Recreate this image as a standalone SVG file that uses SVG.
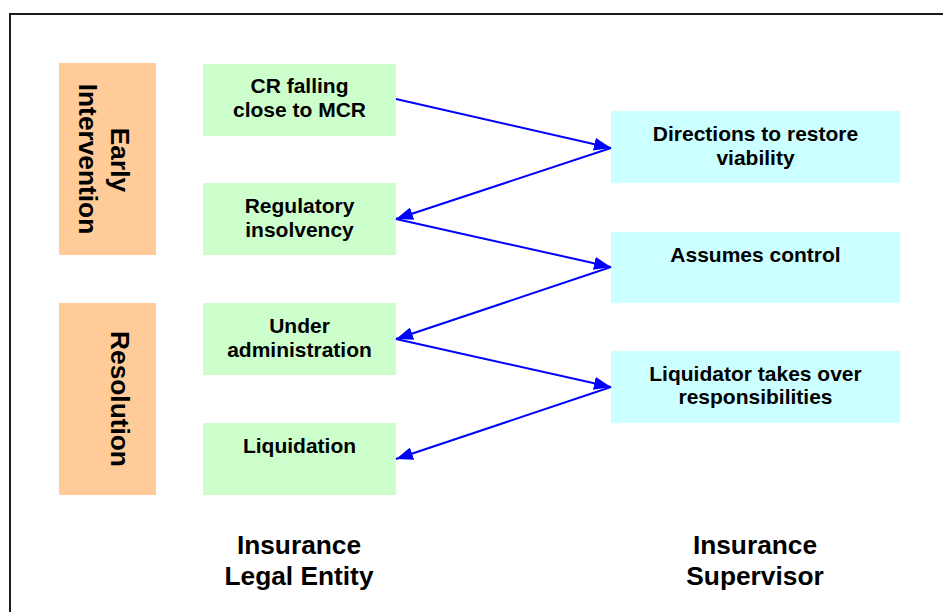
<svg xmlns="http://www.w3.org/2000/svg" width="943" height="612" viewBox="0 0 943 612">
<defs>
<marker id="ah" markerUnits="userSpaceOnUse" markerWidth="18" markerHeight="14" refX="17" refY="6.5" orient="auto">
<path d="M0,0 L17,6.5 L0,13 z" fill="#0000FF"/>
</marker>
<style>
.phase{fill:#FFCC99}
.ent{fill:#CCFFCC}
.sup{fill:#CCFFFF}
.t{font-family:"Liberation Sans",Arial,sans-serif;font-weight:bold;font-size:21px;fill:#000;text-anchor:middle}
.big{font-family:"Liberation Sans",Arial,sans-serif;font-weight:bold;font-size:26.3px;fill:#000;text-anchor:middle}
.c{stroke:#0000FF;stroke-width:2;fill:none;marker-end:url(#ah)}
</style>
</defs>
<rect x="0" y="0" width="943" height="612" fill="#FFFFFF"/>
<rect x="10" y="14" width="960" height="640" fill="none" stroke="#1a1a1a" stroke-width="2"/>
<g id="early">
<rect class="phase" x="59" y="63" width="97" height="192"/>
<text class="big" transform="translate(111,160) rotate(90)">Early</text>
<text class="big" transform="translate(79,159) rotate(90)">Intervention</text>
</g>
<g id="resolution">
<rect class="phase" x="59" y="303" width="97" height="192"/>
<text class="big" transform="translate(111,399) rotate(90)">Resolution</text>
</g>
<g id="cr">
<rect class="ent" x="203" y="64" width="193" height="72"/>
<text class="t" x="299.5" y="93">CR falling</text>
<text class="t" x="299.5" y="116.7">close to MCR</text>
</g>
<g id="reg">
<rect class="ent" x="203" y="183" width="193" height="72"/>
<text class="t" x="299.5" y="212.7">Regulatory</text>
<text class="t" x="299.5" y="236.7">insolvency</text>
</g>
<g id="admin">
<rect class="ent" x="203" y="303" width="193" height="72"/>
<text class="t" x="299.5" y="332.7">Under</text>
<text class="t" x="299.5" y="356.7">administration</text>
</g>
<g id="liq">
<rect class="ent" x="203" y="423" width="193" height="72"/>
<text class="t" x="299.5" y="452.7">Liquidation</text>
</g>
<g id="dir">
<rect class="sup" x="611" y="111" width="289" height="72"/>
<text class="t" x="755.5" y="140.7">Directions to restore</text>
<text class="t" x="755.5" y="164.7">viability</text>
</g>
<g id="ctrl">
<rect class="sup" x="611" y="232" width="289" height="71"/>
<text class="t" x="755.5" y="261.7">Assumes control</text>
</g>
<g id="liqr">
<rect class="sup" x="611" y="351" width="289" height="72"/>
<text class="t" x="755.5" y="380.7">Liquidator takes over</text>
<text class="t" x="755.5" y="404.2">responsibilities</text>
</g>
<g id="lbl-entity">
<text class="big" x="299" y="554">Insurance</text>
<text class="big" x="299" y="585">Legal Entity</text>
</g>
<g id="lbl-supervisor">
<text class="big" x="755" y="554">Insurance</text>
<text class="big" x="755" y="585">Supervisor</text>
</g>
<g id="connectors">
<line class="c" x1="396" y1="99" x2="611" y2="148"/>
<line class="c" x1="611" y1="148" x2="396" y2="219"/>
<line class="c" x1="396" y1="219" x2="611" y2="267"/>
<line class="c" x1="611" y1="267" x2="396" y2="339"/>
<line class="c" x1="396" y1="339" x2="611" y2="387"/>
<line class="c" x1="611" y1="387" x2="396" y2="459"/>
</g>
</svg>
